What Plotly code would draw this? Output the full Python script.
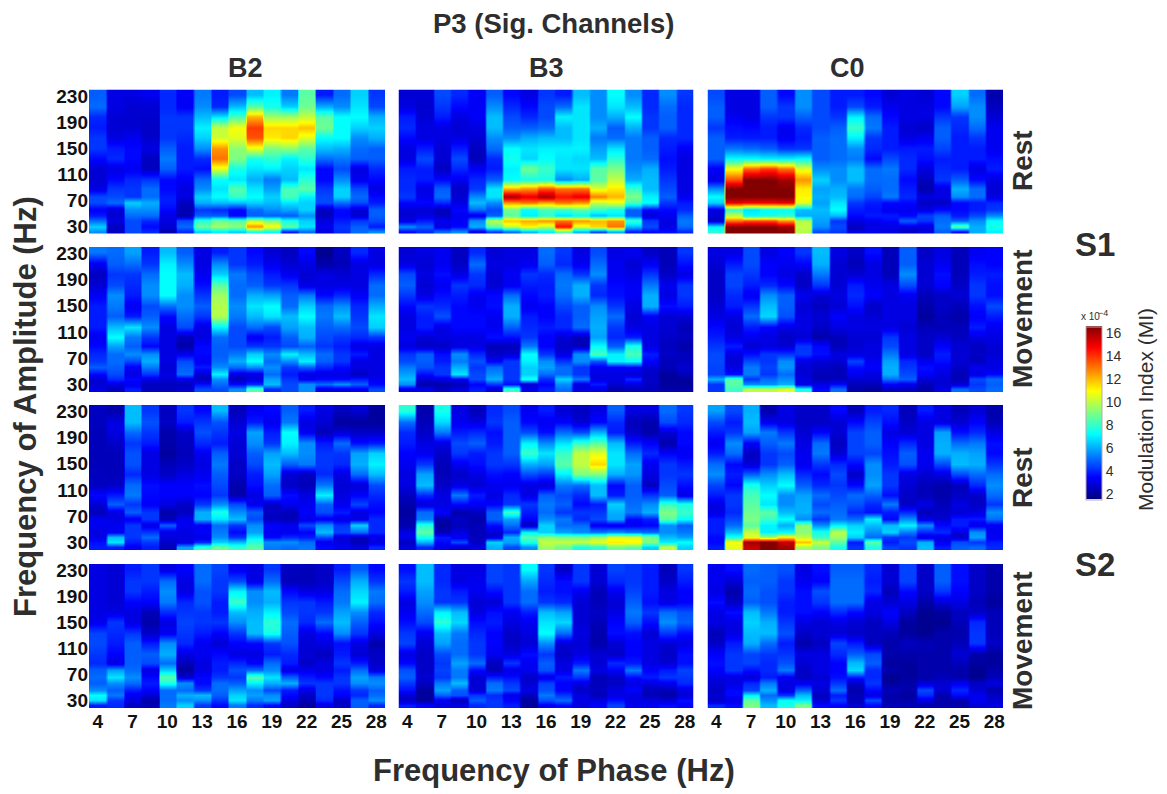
import numpy as np
import plotly.graph_objects as go

WIDTH, HEIGHT = 1167, 794
TEXT = "#2e2e2e"
FONT = "Liberation Sans"

PHASE_HZ = [4 + 1.5 * i for i in range(17)]
AMP_HZ = [232, 214, 198, 182, 166, 150, 134, 118, 102, 88, 76, 66, 56, 46, 38, 30, 22]
X_TICKS = [4, 7, 10, 13, 16, 19, 22, 25, 28]
Y_TICKS = [30, 70, 110, 150, 190, 230]
CB_TICKS = [2, 4, 6, 8, 10, 12, 14, 16]
COL_TITLES = ["B2", "B3", "C0"]
ROW_TITLES = ["Rest", "Movement", "Rest", "Movement"]

# Each list below is one phase-frequency column, top (high amplitude) to bottom; unit 1e-5
S1_REST_B2 = [
    [48,50,40,38,42,42,35,28,28,30,45,45,33,38,50,65,55],
    [30,30,28,28,30,38,40,30,35,42,45,50,28,28,30,25,25],
    [30,28,27,28,32,35,35,32,40,42,42,65,55,50,45,45,45],
    [32,28,27,26,27,30,25,25,42,50,50,60,55,50,40,35,40],
    [40,40,42,42,42,48,52,48,35,35,38,38,35,30,30,28,22],
    [33,33,42,42,40,38,38,38,33,30,30,25,23,23,45,50,40],
    [52,55,62,70,65,55,40,36,50,55,65,60,42,48,78,88,65],
    [38,40,68,100,102,125,130,105,72,68,72,62,40,48,88,95,70],
    [45,62,82,108,105,92,90,75,68,84,80,62,35,35,85,92,65],
    [62,85,120,138,135,105,75,68,60,68,72,65,50,48,100,125,75],
    [70,75,95,115,112,90,78,70,52,58,65,62,55,48,90,110,72],
    [52,65,95,115,115,92,70,65,62,82,82,68,58,48,75,85,38],
    [85,88,100,118,105,85,78,68,78,85,70,65,65,55,65,68,50],
    [38,60,85,88,72,62,50,35,35,42,45,45,25,25,30,32,30],
    [50,55,72,72,72,60,52,45,55,65,65,50,35,35,38,42,40],
    [65,68,72,65,55,50,48,30,32,45,50,45,28,28,42,48,50],
    [42,45,60,65,60,48,48,40,35,30,35,38,48,48,45,38,55],
]
S1_REST_B3 = [
    [28,30,38,40,35,30,30,38,40,40,42,35,28,28,30,55,35],
    [28,27,28,30,30,38,45,38,38,30,32,35,28,30,38,48,40],
    [45,42,38,30,30,28,28,25,35,48,50,40,24,26,32,30,50],
    [40,35,30,28,30,38,45,40,32,26,28,30,35,32,33,35,55],
    [33,33,33,30,28,25,24,33,40,42,55,62,50,30,55,60,30],
    [48,55,62,62,55,50,40,38,48,68,68,55,45,48,100,85,42],
    [35,40,45,48,55,72,74,70,72,120,160,125,88,85,118,100,50],
    [30,35,40,48,60,68,66,88,75,125,150,130,72,70,122,110,62],
    [42,45,45,50,62,70,72,80,75,135,160,122,82,78,125,100,70],
    [38,50,70,62,62,70,68,68,55,130,145,130,80,68,130,145,85],
    [62,68,68,68,68,70,66,68,60,130,150,125,85,72,125,105,62],
    [55,55,55,60,52,58,62,85,85,105,128,100,80,62,120,115,45],
    [72,68,60,48,50,68,78,90,100,112,120,105,75,68,125,130,60],
    [55,62,72,60,52,52,52,55,60,80,90,82,48,48,80,62,38],
    [40,40,42,42,48,48,50,60,62,62,70,72,35,28,42,45,35],
    [55,50,48,48,40,38,36,38,42,45,48,42,35,32,30,30,36],
    [42,40,40,40,40,33,30,30,30,30,32,38,40,48,52,50,40],
]
S1_REST_C0 = [
    [45,48,48,42,48,48,48,33,30,55,72,65,30,28,26,70,78],
    [30,30,32,36,38,52,72,108,135,165,165,150,80,100,130,165,165],
    [30,30,30,35,38,50,72,132,165,165,165,148,68,72,135,165,165],
    [48,48,42,38,38,48,70,138,165,165,165,148,72,75,135,165,165],
    [35,42,42,32,32,42,70,130,160,165,165,150,72,78,125,160,165],
    [55,55,48,40,38,42,72,105,125,112,110,105,62,60,98,100,98],
    [45,45,45,45,48,48,48,55,65,58,60,58,62,60,58,55,45],
    [38,38,42,48,50,50,50,55,55,60,62,68,72,62,42,45,42],
    [38,45,70,80,70,55,52,62,62,52,50,42,38,35,30,25,30],
    [35,38,50,52,42,40,35,50,50,48,44,38,36,38,32,30,32],
    [28,32,35,38,38,38,45,52,50,50,52,35,32,38,35,30,30],
    [30,30,30,28,30,38,40,40,35,38,40,35,32,35,48,30,25],
    [28,30,30,26,32,38,36,30,25,22,30,26,30,44,42,28,30],
    [35,35,42,48,48,44,38,40,42,30,30,26,35,48,50,52,48],
    [65,58,42,40,38,38,38,38,48,60,55,35,35,38,48,85,35],
    [50,55,55,50,42,38,38,30,35,50,50,38,38,45,55,60,60],
    [22,25,28,32,32,32,36,38,30,28,30,40,42,55,72,75,70],
]
S1_MOVE_B2 = [
    [52,32,25,28,33,38,38,38,32,35,40,42,48,35,28,28,30],
    [50,48,42,45,55,52,48,62,72,58,50,50,48,45,40,30,25],
    [58,50,42,40,38,32,38,68,52,48,55,45,33,30,35,32,38],
    [38,42,50,55,55,45,48,55,42,35,55,60,52,42,30,25,25],
    [62,70,72,72,72,50,35,30,30,30,30,30,28,30,28,25,25],
    [48,55,62,60,55,55,50,45,24,22,32,45,48,50,30,25,28],
    [30,30,32,36,42,48,42,30,30,35,35,32,38,28,24,36,45],
    [38,55,65,85,95,98,98,70,50,48,48,50,55,70,55,50,45],
    [42,42,52,50,50,55,52,45,45,45,52,60,50,30,24,35,55],
    [35,38,45,48,60,68,62,50,32,42,65,72,55,30,30,40,85],
    [28,32,38,42,58,72,68,45,38,42,55,50,55,50,58,62,40],
    [25,28,32,42,48,50,62,58,48,45,70,55,42,38,42,45,45],
    [35,30,28,30,52,65,72,62,60,48,62,70,48,30,32,55,55],
    [18,22,30,30,35,50,52,48,45,42,50,48,40,30,35,50,30],
    [25,24,28,30,40,55,62,50,42,38,42,42,35,30,35,55,30],
    [40,30,30,30,33,40,42,45,40,30,38,30,30,25,38,48,32],
    [30,30,40,50,50,60,68,65,42,30,30,30,30,30,32,35,45],
]
S1_MOVE_B3 = [
    [28,30,45,48,42,35,30,30,32,30,42,45,52,58,62,55,30],
    [30,28,30,28,30,42,38,38,28,26,48,48,46,36,28,22,32],
    [32,32,36,32,36,40,46,30,30,26,36,38,42,42,30,22,26],
    [25,26,30,42,38,35,35,35,30,30,55,52,60,68,32,24,30],
    [40,50,42,40,32,32,35,35,30,30,40,46,42,45,45,34,38],
    [28,30,28,28,35,36,32,32,36,24,26,34,50,55,60,42,28],
    [30,30,33,32,50,60,60,48,36,24,28,42,42,42,42,36,80],
    [30,32,42,38,35,32,38,40,42,52,72,70,65,65,75,28,32],
    [50,48,40,38,38,34,34,38,34,34,42,55,58,50,40,34,38],
    [42,40,50,52,50,44,40,40,28,26,30,42,50,50,65,55,50],
    [30,32,42,60,60,48,48,50,24,24,55,55,42,42,52,30,30],
    [45,50,55,42,40,55,58,60,58,72,82,46,32,30,30,38,30],
    [30,32,32,35,36,42,50,42,40,48,70,70,33,30,30,28,22],
    [32,28,30,33,33,30,28,30,38,75,82,72,34,28,40,30,24],
    [26,33,42,52,60,60,33,30,30,30,38,34,28,26,26,26,24],
    [24,24,26,32,30,36,28,28,26,25,26,24,24,20,20,20,22],
    [42,36,30,42,42,38,28,24,25,22,25,25,28,24,20,20,22],
]
S1_MOVE_C0 = [
    [30,28,26,26,26,28,30,35,38,42,45,45,44,44,60,42,42],
    [30,38,44,44,40,38,30,28,30,38,30,28,30,36,85,85,80],
    [45,45,42,38,32,42,50,38,32,28,36,45,52,52,42,55,100],
    [30,34,34,40,55,62,66,34,30,30,42,42,44,42,50,55,100],
    [34,32,30,35,48,48,46,30,26,28,42,55,56,50,55,60,105],
    [42,34,26,26,32,28,30,30,28,42,42,30,28,28,30,30,75],
    [62,60,52,42,28,25,28,26,22,35,36,28,26,24,24,30,35],
    [30,28,28,28,30,28,34,30,24,24,30,28,24,24,24,35,50],
    [26,24,28,38,40,36,30,30,28,28,30,44,36,32,28,24,22],
    [36,30,30,32,34,26,28,30,28,30,30,32,34,30,28,24,20],
    [24,24,24,30,30,30,30,30,42,45,52,58,60,60,50,34,25],
    [48,48,55,45,32,30,30,28,30,30,30,40,42,45,48,32,25],
    [26,28,28,28,24,22,20,24,26,26,26,32,36,34,28,24,22],
    [30,32,36,34,26,26,24,24,28,34,38,36,32,30,28,28,30],
    [24,24,24,26,28,24,22,24,25,28,28,28,26,24,24,28,50],
    [32,36,38,42,42,36,33,38,30,25,26,25,32,30,45,42,45],
    [34,34,38,36,36,45,38,32,30,28,28,30,30,35,50,48,50],
]
S2_REST_B2 = [
    [25,25,24,24,24,24,25,25,35,28,24,32,32,30,30,36,38],
    [22,30,30,26,24,24,24,26,38,48,30,30,32,32,62,68,38],
    [62,62,50,42,46,46,40,50,52,42,48,32,42,42,42,38,32],
    [42,46,42,38,30,30,30,36,35,33,42,42,30,42,50,42,38],
    [25,26,22,22,20,24,26,34,34,30,22,24,48,30,30,26,24],
    [42,38,26,25,24,26,30,34,34,26,25,32,32,30,30,30,58],
    [35,42,46,40,32,30,32,36,34,42,60,60,32,34,30,40,80],
    [62,46,42,38,48,52,48,45,42,55,75,68,50,52,55,65,88],
    [24,28,30,28,28,26,26,22,22,45,55,62,42,35,42,62,80],
    [32,38,58,55,48,45,38,36,30,32,48,45,55,58,68,78,85],
    [35,32,38,42,58,62,58,50,48,26,26,25,34,32,35,55,52],
    [48,52,72,70,62,48,28,26,36,32,24,24,32,32,40,55,50],
    [38,30,32,55,55,52,25,24,30,32,34,30,45,34,38,50,52],
    [30,28,24,38,42,42,40,52,70,48,45,32,55,62,45,32,35],
    [25,20,28,50,42,40,30,28,30,32,38,30,42,44,28,30,32],
    [28,20,26,36,58,60,50,28,34,44,30,30,65,50,24,24,30],
    [20,20,26,38,65,70,62,45,40,36,34,40,40,40,30,30,40],
]
S2_REST_B3 = [
    [78,50,40,38,34,32,30,30,25,22,20,22,22,30,32,25,30],
    [22,24,26,30,32,42,58,62,40,28,50,52,78,85,75,60,40],
    [75,66,52,30,26,24,24,26,30,30,34,22,20,24,38,35,30],
    [30,32,38,45,42,32,26,30,52,35,22,26,24,30,32,45,26],
    [24,30,40,48,38,36,30,28,38,33,25,22,24,24,24,26,30],
    [40,42,36,38,42,42,36,32,30,34,48,48,36,28,28,65,60],
    [45,48,48,48,48,42,34,32,40,42,80,58,50,40,60,58,45],
    [32,35,45,70,80,60,45,30,30,42,38,34,24,70,85,75,55],
    [38,32,36,55,68,58,42,28,48,52,50,55,65,65,92,100,95],
    [28,34,50,68,80,85,70,52,45,48,42,52,50,58,90,100,88],
    [25,28,45,80,100,100,90,50,40,35,42,40,50,55,90,100,75],
    [30,35,60,85,105,115,90,62,62,38,42,45,32,52,95,105,78],
    [48,40,38,62,68,68,60,35,38,65,60,58,30,55,105,112,88],
    [30,24,26,38,50,58,56,48,48,50,52,35,32,52,105,110,85],
    [30,22,22,34,40,32,30,25,42,55,60,38,34,50,90,90,65],
    [50,45,28,22,34,42,42,45,48,80,90,85,55,55,62,70,100],
    [42,40,35,35,32,38,42,36,30,75,80,72,48,52,58,72,65],
]
S2_REST_C0 = [
    [58,45,38,32,38,50,55,44,38,30,30,38,38,38,35,35,38],
    [45,38,42,55,50,35,38,35,42,42,40,45,50,62,75,108,105],
    [60,62,58,34,25,28,48,75,82,85,88,90,85,100,105,160,155],
    [22,32,52,48,42,42,55,65,72,68,85,80,70,70,95,165,165],
    [30,30,42,52,45,48,62,72,55,55,62,72,60,72,112,155,160],
    [26,26,28,30,32,32,40,48,58,60,60,55,92,92,100,118,95],
    [26,26,34,50,52,42,35,40,50,45,50,42,55,75,80,100,90],
    [35,28,28,25,28,40,45,42,45,48,50,52,70,98,95,85,75],
    [24,35,44,44,44,35,26,35,50,46,40,50,65,70,65,38,42],
    [38,44,48,48,44,55,55,58,48,40,36,70,62,55,50,85,75],
    [40,36,30,34,36,38,42,42,36,52,38,35,62,65,42,38,44],
    [24,26,28,40,48,46,30,28,26,26,40,55,70,52,42,45,42],
    [38,30,30,30,32,32,28,24,24,30,24,30,55,40,28,60,62],
    [30,30,58,60,60,45,30,22,22,24,26,28,35,40,30,32,38],
    [24,28,36,50,60,62,45,24,26,30,28,38,38,30,26,45,48],
    [28,34,40,52,58,60,50,40,26,26,30,38,30,55,58,42,50],
    [22,24,30,36,35,42,50,55,50,42,55,50,32,32,32,38,40],
]
S2_MOVE_B2 = [
    [30,30,30,30,30,32,44,45,42,40,48,50,48,55,72,68,38],
    [28,28,28,28,30,42,40,38,34,30,58,68,55,48,52,42,40],
    [38,42,42,34,30,30,42,48,48,48,50,55,50,38,32,30,25],
    [42,42,38,34,24,22,26,38,48,45,30,35,38,34,28,22,24],
    [30,50,55,52,40,30,32,55,60,50,65,85,75,50,50,50,52],
    [34,30,30,40,42,44,42,40,30,24,20,28,55,50,60,55,65],
    [50,50,46,46,42,42,38,32,32,30,30,35,35,42,62,55,42],
    [44,42,42,38,38,42,34,28,35,38,38,42,50,50,48,42,35],
    [32,45,70,80,62,55,42,34,30,40,46,42,48,58,65,68,52],
    [30,30,55,55,60,62,62,35,30,34,50,85,70,55,58,52,40],
    [42,50,62,60,70,78,75,42,38,50,55,68,60,45,55,58,35],
    [25,24,35,42,45,50,48,46,40,38,30,48,60,38,35,30,26],
    [24,24,30,42,42,40,30,28,28,26,32,38,42,30,26,24,20],
    [26,26,30,38,42,50,35,30,25,30,30,35,42,42,42,40,30],
    [38,45,50,52,58,62,55,36,38,42,38,42,42,36,34,26,26],
    [48,60,66,70,55,48,42,30,28,38,50,58,55,42,40,48,48],
    [35,42,52,50,40,36,30,22,26,26,30,52,55,48,50,55,40],
]
S2_MOVE_B3 = [
    [36,42,38,30,32,36,42,44,30,35,46,48,42,36,28,26,38],
    [62,62,58,55,50,45,32,28,26,26,26,28,25,20,20,20,34],
    [40,40,42,42,70,78,62,58,45,42,44,42,52,58,48,32,30],
    [30,30,38,42,62,66,52,50,50,58,52,52,62,48,46,24,30],
    [30,32,32,28,30,36,40,42,42,50,35,28,28,28,42,48,40],
    [44,44,36,28,36,38,34,34,32,25,24,38,50,52,40,42,42],
    [42,42,42,42,32,30,26,26,30,42,30,36,42,45,30,34,38],
    [72,58,50,50,38,32,30,28,36,32,32,26,28,30,25,20,20],
    [42,40,38,42,62,68,72,55,42,48,46,30,44,46,52,46,32],
    [26,36,36,40,58,66,50,28,26,30,30,38,34,34,42,50,35],
    [42,42,32,28,28,28,30,28,30,38,52,42,30,26,30,30,30],
    [28,28,24,24,26,24,22,22,28,28,30,24,24,25,24,30,34],
    [44,40,32,28,30,34,36,28,26,40,34,26,26,30,30,36,44],
    [42,42,44,48,52,48,36,34,34,38,52,36,30,34,30,30,32],
    [38,38,38,36,42,36,28,30,30,30,34,38,30,24,24,30,32],
    [24,26,30,30,50,55,42,28,26,28,38,42,32,24,22,28,36],
    [42,38,34,34,46,48,36,30,36,36,44,42,40,30,28,36,34],
]
S2_MOVE_C0 = [
    [32,32,30,36,30,30,24,26,34,36,34,30,28,26,28,26,40],
    [36,28,22,26,36,30,30,38,42,42,42,30,30,35,35,30,36],
    [50,48,50,48,62,65,62,60,44,44,36,28,40,44,70,85,90],
    [48,48,46,46,52,60,62,50,42,40,40,38,52,60,50,55,62],
    [46,42,42,38,38,42,46,38,42,46,52,32,30,30,42,72,75],
    [30,32,36,36,36,30,26,22,30,28,26,26,32,48,62,70,90],
    [36,34,46,42,34,28,28,25,30,30,30,28,30,28,25,28,35],
    [48,50,50,50,40,30,28,44,40,34,34,36,42,50,38,42,34],
    [48,50,50,50,35,28,26,38,48,62,66,38,26,22,24,24,28],
    [40,38,40,30,30,25,25,25,45,48,40,40,42,35,30,45,35],
    [28,28,24,28,34,30,24,22,22,20,22,18,20,24,22,22,24],
    [44,44,35,30,25,20,20,25,22,20,20,20,22,22,20,22,24],
    [26,26,26,22,18,18,18,24,22,22,22,22,28,45,40,30,22],
    [48,48,42,28,20,18,22,22,22,22,22,24,28,28,22,22,22],
    [36,36,34,30,25,24,22,24,28,24,22,22,32,40,35,22,22],
    [26,26,26,24,26,40,42,42,22,20,18,18,26,28,32,32,28],
    [22,22,22,20,24,24,24,26,20,20,22,24,30,22,26,28,30],
]
PANELS = [
    [S1_REST_B2, S1_REST_B3, S1_REST_C0],
    [S1_MOVE_B2, S1_MOVE_B3, S1_MOVE_C0],
    [S2_REST_B2, S2_REST_B3, S2_REST_C0],
    [S2_MOVE_B2, S2_MOVE_B3, S2_MOVE_C0],
]
JET = [
    [0.0, "rgb(0,0,128)"], [0.125, "rgb(0,0,255)"], [0.375, "rgb(0,255,255)"],
    [0.625, "rgb(255,255,0)"], [0.875, "rgb(255,0,0)"], [1.0, "rgb(128,0,0)"],
]

# Panel boxes in page pixels
COL_BOX = [(89, 385), (398.5, 693.5), (707.5, 1003)]
ROW_BOX = [(89.5, 234), (247, 392), (405, 550), (564, 708)]

# Each column is sampled 8 times across its width so that zsmooth blends only along amplitude
SUB = 8
STEP = 1.5
X_SUB = np.array([p + STEP * ((k + 0.5) / SUB - 0.5) for p in PHASE_HZ for k in range(SUB)])
Y_UP = AMP_HZ[::-1]


def px(x):
    return x / WIDTH


def py(y):
    return 1 - y / HEIGHT


fig = go.Figure()
layout = dict(
    width=WIDTH, height=HEIGHT, autosize=False,
    margin=dict(l=0, r=0, t=0, b=0, pad=0, autoexpand=False),
    paper_bgcolor="white", plot_bgcolor="white", showlegend=False,
    font=dict(family=FONT, color=TEXT),
    coloraxis=dict(
        colorscale=JET, cmin=1.55, cmax=16.55,
        colorbar=dict(
            x=px(1086), xanchor="left", xpad=0, y=py(413), yanchor="middle", ypad=0,
            thickness=16, thicknessmode="pixels", len=172.6, lenmode="pixels",
            tickvals=CB_TICKS, ticks="", ticklabelposition="outside",
            tickfont=dict(family=FONT, size=14, color=TEXT),
            outlinecolor="#b9a9b0", outlinewidth=1,
        ),
    ),
)

n = 0
for r, row in enumerate(PANELS):
    for c, cols in enumerate(row):
        n += 1
        sfx = "" if n == 1 else str(n)
        z = np.repeat(np.array(cols).T[::-1] / 10, SUB, axis=1)
        fig.add_trace(go.Heatmap(
            x=X_SUB, y=Y_UP, z=z, zsmooth="best",
            coloraxis="coloraxis", xaxis=f"x{sfx}", yaxis=f"y{sfx}",
        ))
        layout[f"xaxis{sfx}"] = dict(
            domain=[px(COL_BOX[c][0]), px(COL_BOX[c][1])], anchor=f"y{sfx}",
            range=[3.25, 28.75], tickvals=X_TICKS, showticklabels=r == 3, ticks="",
            showgrid=False, zeroline=False, showline=False,
            tickfont=dict(family=FONT, size=19, color="#111111", weight="bold"),
        )
        layout[f"yaxis{sfx}"] = dict(
            domain=[py(ROW_BOX[r][1]), py(ROW_BOX[r][0])], anchor=f"x{sfx}",
            range=[18, 240], tickvals=Y_TICKS, showticklabels=c == 0, ticks="",
            showgrid=False, zeroline=False, showline=False,
            tickfont=dict(family=FONT, size=19, color="#111111", weight="bold"),
        )


def label(text, x, y, size, bold=True, angle=0):
    weight = "bold" if bold else "normal"
    fig.add_annotation(
        text=text, x=px(x), y=py(y), xref="paper", yref="paper", showarrow=False,
        xanchor="center", yanchor="middle", textangle=angle,
        font=dict(family=FONT, size=size, color=TEXT, weight=weight),
    )


fig.update_layout(**layout)
label("P3 (Sig. Channels)", 553, 24, 27.5)
for name, x in zip(COL_TITLES, [245, 546, 847]):
    label(name, x, 68, 27)
for name, y in zip(ROW_TITLES, [161, 319, 478, 641]):
    label(name, 1022, y, 28, angle=-90)
label("Frequency of Amplitude (Hz)", 26, 407, 31, angle=-90)
label("Frequency of Phase (Hz)", 554, 770, 31)
label("S1", 1095, 244, 33)
label("S2", 1095, 564, 33)
label("Modulation Index (MI)", 1146, 410, 21, bold=False, angle=-90)
label("x 10", 1090, 317, 10, bold=False)
label("\u22124", 1103, 313, 9, bold=False)

fig.write_html(
    "out.html",
    config={"displayModeBar": False},
    post_script="document.body.style.margin='0';document.body.style.overflow='hidden';",
)
